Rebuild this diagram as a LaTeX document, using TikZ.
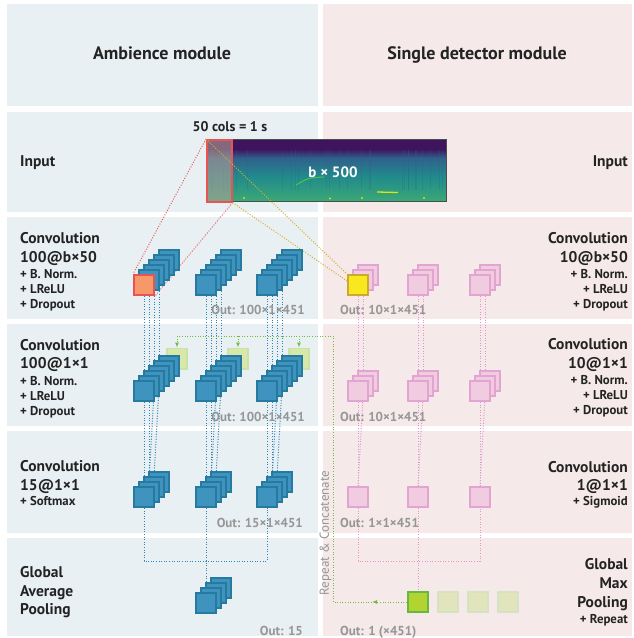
\documentclass[tikz,border=0pt]{standalone}
\usepackage{fontspec}
\setmainfont{PT Sans}
\usetikzlibrary{arrows.meta, positioning}

\definecolor{ambbg}{RGB}{232,240,243}
\definecolor{detbg}{RGB}{245,233,234}
\definecolor{bluefill}{RGB}{62,148,190}
\definecolor{blueline}{RGB}{38,122,160}
\definecolor{pinkfill}{RGB}{241,204,225}
\definecolor{pinkline}{RGB}{226,164,208}
\definecolor{orangefill}{RGB}{247,152,104}
\definecolor{redline}{RGB}{232,84,84}
\definecolor{yellowfill}{RGB}{250,232,30}
\definecolor{yellowline}{RGB}{205,170,45}
\definecolor{lgreenfill}{RGB}{214,232,160}
\definecolor{lgreenline}{RGB}{200,226,170}
\definecolor{greenfill}{RGB}{178,212,48}
\definecolor{greenline}{RGB}{104,184,64}
\definecolor{fadefill}{RGB}{226,229,188}
\definecolor{fadeline}{RGB}{214,226,196}
\definecolor{outgray}{RGB}{150,150,150}
\definecolor{textdark}{RGB}{35,35,35}
\definecolor{bluedot}{RGB}{50,130,180}
\definecolor{pinkdot}{RGB}{226,150,200}
\definecolor{greendot}{RGB}{110,190,60}
\definecolor{yellowdot}{RGB}{215,175,40}
\definecolor{reddot}{RGB}{235,90,90}
\definecolor{specpurple}{RGB}{62,20,92}
\definecolor{specblue}{RGB}{48,96,140}
\definecolor{specteal}{RGB}{33,138,140}
\definecolor{specgreen}{RGB}{58,168,118}

\pgfdeclarelayer{panels}
\pgfdeclarelayer{wires}
\pgfsetlayers{panels,wires,main}

\begin{document}
\begin{tikzpicture}[x=1pt, y=-1pt,
    sq/.style={draw, minimum size=20.4pt, inner sep=0pt, line width=1.6pt},
    bluesq/.style={sq, fill=bluefill, draw=blueline},
    pinksq/.style={sq, fill=pinkfill, draw=pinkline},
    title/.style={font=\fontsize{18}{20}\selectfont\bfseries, text=textdark, inner sep=0pt},
    major/.style={font=\fontsize{15.5}{18}\selectfont\bfseries, text=textdark, inner sep=0pt},
    minor/.style={font=\fontsize{12.8}{15}\selectfont\bfseries, text=textdark, inner sep=0pt},
    outtext/.style={font=\fontsize{13}{15}\selectfont\bfseries, text=outgray, inner sep=0pt},
    dotwire/.style={line width=1pt, dash pattern=on 1pt off 1.6pt},
    bwire/.style={dotwire, draw=bluedot},
    pwire/.style={dotwire, draw=pinkdot},
    gwire/.style={dotwire, draw=greendot},
    gtip/.style={-{Latex[length=5pt, width=4pt]}}]

  \useasboundingbox (0,0) rectangle (634,638);

  % Panels and spectrogram
  \begin{pgfonlayer}{panels}
    \fill[white] (0,0) rectangle (634,638);
    \foreach \yt/\yb in {4/106, 112/212, 217/319, 324/426, 431/533, 538/636} {
      \fill[ambbg] (7,\yt) rectangle (318,\yb);
      \fill[detbg] (323,\yt) rectangle (632,\yb);
    }

    \node[minimum width=240pt, minimum height=62pt, inner sep=0pt, anchor=north west] (spec) at (206,139) {};
    \begin{scope}
      \clip (spec.north west) rectangle (spec.south east);
      \fill[specpurple] (206,139) rectangle (446,150);
      \shade[top color=specpurple, bottom color=specblue] (206,149) rectangle (446,158);
      \shade[top color=specblue, bottom color=specteal] (206,158) rectangle (446,176);
      \shade[top color=specteal, bottom color=specgreen] (206,176) rectangle (446,201);
      \pgfmathsetseed{12}
      \foreach \i in {1,...,30} {
        \pgfmathsetmacro{\sx}{206+240*rnd}
        \draw[specblue, opacity=0.25, line width=0.8pt] (\sx,150) -- (\sx,190);
      }
      \draw[yellow!85!green, line width=1.3pt] (377,192) -- (398,192.5);
      \draw[green!55!yellow, opacity=0.45, line width=1.1pt] (296,185) .. controls (308,178) .. (324,177);
      \fill[yellow!80!green] (244,198) circle (1.2) (330,198.5) circle (1.2) (362,198) circle (1.2) (424,198) circle (1.2);
    \end{scope}
    \draw[gray!60!black, line width=0.7pt] (spec.north west) rectangle (spec.south east);

    \node[draw=redline, fill={rgb,255:red,178;green,160;blue,150}, fill opacity=0.6, line width=1.6pt,
          minimum width=25pt, minimum height=62pt, inner sep=0pt, anchor=north west] (win) at (206,139) {};
  \end{pgfonlayer}

  % Titles
  \node[title, anchor=base] (tAmb) at (162,59) {Ambience module};
  \node[title, anchor=base] (tDet) at (477,59) {Single detector module};

  % Input row
  \node[major, anchor=base west] (inL) at (20,166) {Input};
  \node[major, anchor=base east] (inR) at (628,166) {Input};
  \node[font=\fontsize{14}{16}\selectfont\bfseries, text=textdark] (cols) at (230,127) {50 cols = 1 s};
  \node[font=\fontsize{15}{17}\selectfont\bfseries, text=white] (bsize) at (333,172) {b × 500};

  % Row labels, ambience side
  \foreach \t/\yb [count=\n] in {Convolution/243.5, 100@b×50/262}
    \node[major, anchor=base west] (l3-\n) at (20,\yb) {\t};
  \foreach \t/\yb [count=\n] in {+ B. Norm./278, + LReLU/293, + Dropout/308}
    \node[minor, anchor=base west] (l3e-\n) at (20,\yb) {\t};
  \foreach \t/\yb [count=\n] in {Convolution/350, 100@1×1/368}
    \node[major, anchor=base west] (l4-\n) at (20,\yb) {\t};
  \foreach \t/\yb [count=\n] in {+ B. Norm./385, + LReLU/400, + Dropout/415}
    \node[minor, anchor=base west] (l4e-\n) at (20,\yb) {\t};
  \foreach \t/\yb [count=\n] in {Convolution/471, 15@1×1/490}
    \node[major, anchor=base west] (l5-\n) at (20,\yb) {\t};
  \node[minor, anchor=base west] (l5e-1) at (20,505) {+ Softmax};
  \foreach \t/\yb [count=\n] in {Global/577, Average/596, Pooling/614}
    \node[major, anchor=base west] (l6-\n) at (20,\yb) {\t};

  % Row labels, detector side
  \foreach \t/\yb [count=\n] in {Convolution/243.5, 10@b×50/262}
    \node[major, anchor=base east] (r3-\n) at (628,\yb) {\t};
  \foreach \t/\yb [count=\n] in {+ B. Norm./278, + LReLU/293, + Dropout/308}
    \node[minor, anchor=base east] (r3e-\n) at (628,\yb) {\t};
  \foreach \t/\yb [count=\n] in {Convolution/349.5, 10@1×1/368}
    \node[major, anchor=base east] (r4-\n) at (628,\yb) {\t};
  \foreach \t/\yb [count=\n] in {+ B. Norm./384.5, + LReLU/399.5, + Dropout/414.5}
    \node[minor, anchor=base east] (r4e-\n) at (628,\yb) {\t};
  \foreach \t/\yb [count=\n] in {Convolution/472, 1@1×1/490}
    \node[major, anchor=base east] (r5-\n) at (628,\yb) {\t};
  \node[minor, anchor=base east] (r5e-1) at (628,505) {+ Sigmoid};
  \foreach \t/\yb [count=\n] in {Global/569, Max/588, Pooling/607}
    \node[major, anchor=base east] (r6-\n) at (628,\yb) {\t};
  \node[minor, anchor=base east] (r6e-1) at (628,623) {+ Repeat};

  % Output sizes
  \node[outtext, anchor=base east] (o3L) at (305,314) {Out: 100×1×451};
  \node[outtext, anchor=base west] (o3R) at (340,314) {Out: 10×1×451};
  \node[outtext, anchor=base east] (o4L) at (305,421) {Out: 100×1×451};
  \node[outtext, anchor=base west] (o4R) at (340,421) {Out: 10×1×451};
  \node[outtext, anchor=base east] (o5L) at (303,527) {Out: 15×1×451};
  \node[outtext, anchor=base west] (o5R) at (340,527) {Out: 1×1×451};
  \node[outtext, anchor=base east] (o6L) at (303,635) {Out: 15};
  \node[outtext, anchor=base west] (o6R) at (340,635) {Out: 1 (×451)};
  \node[font=\fontsize{13}{15}\selectfont, text=outgray, rotate=90] (repcat) at (325.5,533) {Repeat \& Concatenate};

  % Repeated detector output (green, behind the stacks)
  \foreach \i/\x in {1/177, 2/238, 3/299}
    \node[sq, fill=lgreenfill, draw=lgreenline, fill opacity=0.9] (gl\i) at (\x,358.5) {};

  % Ambience stacks
  \foreach \i/\x in {1/144, 2/206, 3/267} {
    \foreach \k in {5,4,...,0}
      \node[bluesq] (a\i-\k) at (\x+5*\k, 285-5*\k) {};
    \foreach \k in {5,4,...,0}
      \node[bluesq] (b\i-\k) at (\x+5*\k, 391-5*\k) {};
    \foreach \k in {3,2,1,0}
      \node[bluesq] (c\i-\k) at (\x+5*\k, 497-5*\k) {};
  }
  \foreach \k in {3,2,1,0}
    \node[bluesq] (d-\k) at (206+5*\k, 603-5*\k) {};
  \node[sq, fill=orangefill, draw=redline] (filtA) at (144,285) {};

  % Detector stacks
  \foreach \i/\x in {1/358, 2/418, 3/480} {
    \foreach \k in {2,1,0}
      \node[pinksq] (p\i-\k) at (\x+5*\k, 285-5*\k) {};
    \foreach \k in {2,1,0}
      \node[pinksq] (q\i-\k) at (\x+5*\k, 391-5*\k) {};
    \node[pinksq] (r\i) at (\x,497) {};
  }
  \node[sq, fill=yellowfill, draw=yellowline] (filtD) at (358,285) {};

  % Max pooling output and its repeats
  \node[sq, fill=greenfill, draw=greenline] (gsq) at (418,602) {};
  \foreach \i/\x in {1/448, 2/478, 3/508}
    \node[sq, fill=fadefill, draw=fadeline] (rep\i) at (\x,602) {};

  \coordinate (bjoin) at (206,561);
  \coordinate (pjoin) at (418,561);
  \coordinate (gmid) at (372,602);
  \coordinate (gturn) at (333,602);
  \coordinate (gbus) at (333,336);

  % Connectors
  \begin{pgfonlayer}{wires}
    \draw[reddot, dotwire] (win.north west) -- (filtA.north west);
    \draw[reddot, dotwire] (win.south east) -- (filtA.south east);
    \draw[yellowdot, dotwire] (win.north west) -- (filtD.north west);
    \draw[yellowdot, dotwire] (win.south east) -- (filtD.south east);

    \foreach \i in {1,2,3} {
      \foreach \k in {0,...,3}
        \draw[bwire] (a\i-\k.south) -- (b\i-\k.north);
      \foreach \k/\j in {0/0, 1/1, 2/1, 3/2}
        \draw[bwire] (b\i-\k.south) -- (c\i-\j.north);
      \draw[pwire] (p\i-0.south) -- (q\i-0.north);
      \draw[pwire] (p\i-1.south) -- (q\i-1.north);
      \draw[pwire] (q\i-0.south) -- (r\i.north);
      \draw[pwire] (q\i-1.south) -- (r\i.north);
    }

    \draw[bwire] (c1-0.south) |- (bjoin) -| (c3-0.south);
    \draw[bwire] (c2-0.south) -- (d-0.north);
    \draw[pwire] (r1.south) |- (pjoin) -| (r3.south);
    \draw[pwire] (r2.south) -- (gsq.north);

    \draw[gwire, gtip] (gsq.west) -- (gmid);
    \draw[gwire] (gmid) -- (gturn) -- (gbus) -- (gl1.north |- gbus);
    \foreach \i in {1,2,3}
      \draw[gwire, gtip] (gl\i.north |- gbus) -- (gl\i.north);
  \end{pgfonlayer}
\end{tikzpicture}
\end{document}
